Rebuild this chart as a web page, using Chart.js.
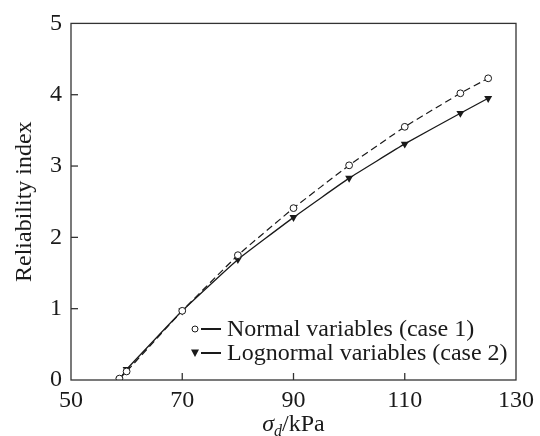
<!DOCTYPE html>
<html>
<head>
<meta charset="utf-8">
<script src="https://cdn.jsdelivr.net/npm/chart.js@4/dist/chart.umd.min.js"></script>
<style>
body { margin:0; background:#fff; }
#wrap { position:relative; width:540px; height:436px; }
</style>
</head>
<body>
<div id="wrap"><canvas id="c"></canvas></div>
<script>
// values
const stressNormal = [58.7, 60, 70, 80, 90, 100, 110, 120, 125]
const betaNormal = [0.02, 0.12, 0.97, 1.75, 2.41, 3.01, 3.55, 4.02, 4.23]
const stressLog = [58.7, 60, 70, 80, 90, 100, 110, 120, 125]
const betaLog = [0.0, 0.15, 0.97, 1.69, 2.28, 2.83, 3.31, 3.74, 3.95]
const xTicks = [50, 70, 90, 110, 130]
const yTicks = [0, 1, 2, 3, 4, 5]
const labels = ['Normal variables (case 1)', 'Lognormal variables (case 2)']

const serif = '"Liberation Serif", "DejaVu Serif", serif'
const ink = '#1a1a1a'

const pts = (xs, ys) => xs.map((x, i) => ({x:x, y:ys[i]}))

// frame, inward ticks, legend and x title
const deco = {
	id: 'deco',
	afterDraw: ch => {
		const c = ch.ctx, a = ch.chartArea, xs = ch.scales.x, ys = ch.scales.y
		c.save()
		c.strokeStyle = '#333'
		c.lineWidth = 1.3
		c.strokeRect(a.left, a.top, a.right - a.left, a.bottom - a.top)
		xTicks.slice(1, -1).forEach(v => {
			const px = xs.getPixelForValue(v)
			c.beginPath(); c.moveTo(px, a.bottom); c.lineTo(px, a.bottom - 7); c.stroke()
		})
		yTicks.slice(1, -1).forEach(v => {
			const py = ys.getPixelForValue(v)
			c.beginPath(); c.moveTo(a.left, py); c.lineTo(a.left + 7, py); c.stroke()
		})

		// legend
		c.fillStyle = ink
		c.font = '24px ' + serif
		c.textBaseline = 'middle'
		const lx = 195, rows = [329, 353]
		rows.forEach((ry, i) => {
			const ds = ch.data.datasets[i]
			c.lineWidth = 2
			c.strokeStyle = ink
			c.beginPath(); c.moveTo(201, ry); c.lineTo(221, ry); c.stroke()
			c.lineWidth = 1
			if (i == 0) {
				c.fillStyle = '#fff'
				c.beginPath(); c.arc(lx, ry, 3, 0, Math.PI * 2); c.fill(); c.stroke()
			} else {
				c.fillStyle = ink
				c.beginPath(); c.moveTo(lx - 4, ry - 3.5); c.lineTo(lx + 4, ry - 3.5); c.lineTo(lx, ry + 4); c.closePath(); c.fill()
			}
			c.fillStyle = ink
			c.fillText(ds.label, 227, ry + 1)
		})

		// x axis title: sigma_d/kPa
		c.textBaseline = 'alphabetic'
		const parts = [
			{t:'σ', f:'italic 24px ' + serif, dy:0},
			{t:'d', f:'italic 16px ' + serif, dy:5},
			{t:'/kPa', f:'24px ' + serif, dy:0},
		]
		let w = 0
		parts.forEach(p => { c.font = p.f; p.w = c.measureText(p.t).width; w += p.w })
		let x = (a.left + a.right) / 2 - w / 2
		parts.forEach(p => { c.font = p.f; c.fillText(p.t, x, 431 + p.dy); x += p.w })
		c.restore()
	}
}

new Chart(document.getElementById('c'), {
	type: 'line',
	data: {
		datasets: [{
			label: labels[0],
			data: pts(stressNormal, betaNormal),
			borderColor: ink,
			borderWidth: 1.2,
			borderDash: [7, 4],
			pointStyle: 'circle',
			pointRadius: 3.4,
			pointBorderWidth: 1,
			pointBackgroundColor: '#fff',
			pointBorderColor: ink,
			tension: 0.1,
			fill: false,
		},
		{
			label: labels[1],
			data: pts(stressLog, betaLog),
			borderColor: ink,
			borderWidth: 1.3,
			pointStyle: 'triangle',
			rotation: 180,
			pointRadius: 4.6,
			pointBorderWidth: 0,
			pointBackgroundColor: ink,
			pointBorderColor: ink,
			tension: 0.1,
			fill: false,
		}]
	},
	options: {
		responsive: true,
		maintainAspectRatio: false,
		animation: false,
		layout: { padding: { left:0, right:22, top:19, bottom:0 } },
		plugins: {
			legend: { display:false },
			tooltip: { enabled:false },
		},
		scales: {
			x: {
				type: 'linear',
				min: 50, max: 130,
				afterFit: s => { s.height = 56 },
				afterBuildTicks: s => { s.ticks = xTicks.map(v => ({value:v})) },
				grid: { display:false, drawTicks:false },
				border: { display:false },
				ticks: { padding:6, color:ink, font:{ family:serif, size:24 } },
			},
			y: {
				min: 0, max: 5,
				afterFit: s => { s.width = 71 },
				afterBuildTicks: s => { s.ticks = yTicks.map(v => ({value:v})) },
				grid: { display:false, drawTicks:false },
				border: { display:false },
				ticks: { padding:9, color:ink, font:{ family:serif, size:24 } },
				title: { display:true, text:'Reliability index', color:ink, padding:{top:10, bottom:0}, font:{ family:serif, size:24 } },
			}
		}
	},
	plugins: [deco]
})
</script>
</body>
</html>
